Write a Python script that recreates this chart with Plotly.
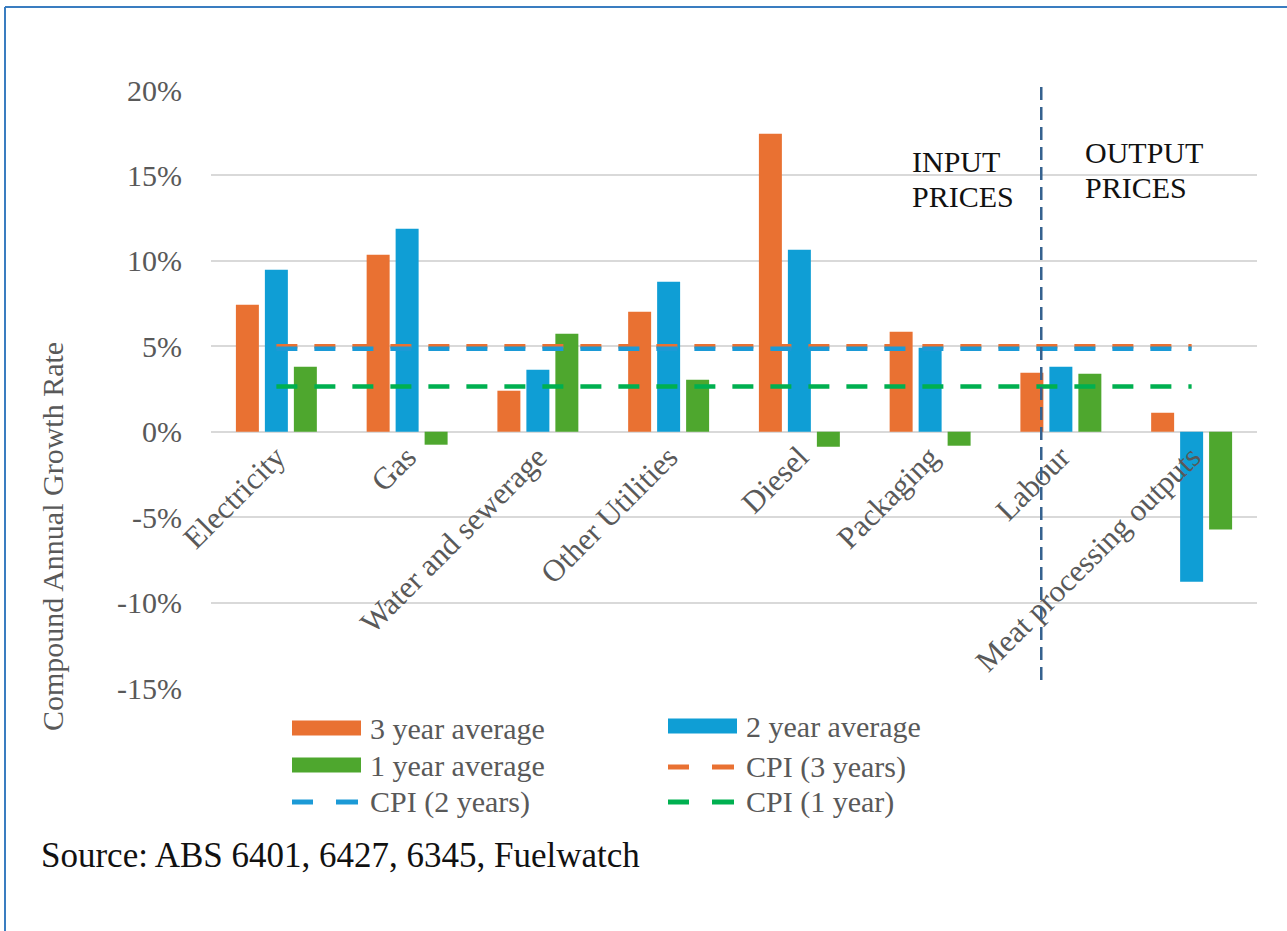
import plotly.graph_objects as go

# Categories and compound annual growth rates (%)
categories = ["Electricity", "Gas", "Water and sewerage", "Other Utilities",
              "Diesel", "Packaging", "Labour", "Meat processing outputs"]
three_year = [7.43, 10.36, 2.40, 7.02, 17.44, 5.85, 3.45, 1.11]
two_year = [9.48, 11.88, 3.63, 8.78, 10.65, 4.91, 3.80, -8.78]
one_year = [3.80, -0.76, 5.73, 3.04, -0.88, -0.82, 3.39, -5.73]

# CPI benchmarks (%)
cpi_three = 5.0
cpi_two = 4.85
cpi_one = 2.65

y_ticks = [-15, -10, -5, 0, 5, 10, 15, 20]
y_tick_labels = ["-15%", "-10%", "-5%", "0%", "5%", "10%", "15%", "20%"]

ORANGE = "#E97132"
BLUE = "#0F9ED5"
GREEN = "#4EA72E"
CPI_ORANGE = "#E97132"
CPI_BLUE = "#1C9AD6"
CPI_GREEN = "#00B050"
SERIF = "Liberation Serif, Times New Roman, serif"
GREY_TEXT = "#595959"

W, H = 1287, 931
L, R, T, B = 211, 30, 90, 243
PW, PH = W - L - R, H - T - B


def px(x):
    return (x - L) / PW


def py(y):
    return (H - B - y) / PH


fig = go.Figure()
fig.add_trace(go.Bar(x=categories, y=three_year, name="3 year average", marker_color=ORANGE))
fig.add_trace(go.Bar(x=categories, y=two_year, name="2 year average", marker_color=BLUE))
fig.add_trace(go.Bar(x=categories, y=one_year, name="1 year average", marker_color=GREEN))

dash = "21px,17px"
for val, col, nm in [(cpi_three, CPI_ORANGE, "CPI (3 years)"),
                     (cpi_two, CPI_BLUE, "CPI (2 years)"),
                     (cpi_one, CPI_GREEN, "CPI (1 year)")]:
    fig.add_trace(go.Scatter(x=categories, y=[val] * len(categories), mode="lines", name=nm,
                             line=dict(color=col, width=4.5, dash=dash)))

fig.update_traces(marker_line_width=0, selector=dict(type="bar"))

fig.update_layout(
    width=W, height=H, autosize=False,
    margin=dict(l=L, r=R, t=T, b=B, pad=0),
    paper_bgcolor="white", plot_bgcolor="white",
    barmode="group", bargap=0.335, bargroupgap=0.207,
    showlegend=False,
    font=dict(family=SERIF, size=30, color=GREY_TEXT),
)

fig.update_yaxes(range=[-15, 20], tickmode="array", tickvals=y_ticks, ticktext=y_tick_labels,
                 showgrid=True, gridcolor="#D9D9D9", gridwidth=1.5,
                 zeroline=True, zerolinecolor="#D9D9D9", zerolinewidth=1.5,
                 showline=False, ticks="", ticklabelstandoff=28,
                 tickfont=dict(family=SERIF, size=30, color=GREY_TEXT))

# category labels sit on the zero line
fig.update_xaxes(anchor="free", position=15 / 35, showgrid=False, showline=False,
                 zeroline=False, ticks="", tickangle=-45,
                 tickfont=dict(family=SERIF, size=31, color=GREY_TEXT))

shapes = []
# divider between input and output prices
div_x = (5.85 + 0.5) / len(categories)
shapes.append(dict(type="line", xref="paper", yref="paper", x0=div_x, x1=div_x,
                   y0=py(680), y1=py(83),
                   line=dict(color="#35618F", width=2.5, dash="13px,7px")))

# outer frame (top and left edges)
shapes.append(dict(type="line", xref="paper", yref="paper", x0=px(5), x1=px(W + 5),
                   y0=py(7), y1=py(7), line=dict(color="#3A7DC0", width=2)))
shapes.append(dict(type="line", xref="paper", yref="paper", x0=px(5), x1=px(5),
                   y0=py(7), y1=py(H + 5), line=dict(color="#3A7DC0", width=2)))

annotations = []
# section labels
for txt, x, y in [("INPUT", 910, 161), ("PRICES", 910, 196),
                  ("OUTPUT", 1083, 152), ("PRICES", 1083, 187)]:
    annotations.append(dict(text=txt, xref="paper", yref="paper", x=px(x), y=py(y),
                            xanchor="left", yanchor="middle", showarrow=False,
                            font=dict(family=SERIF, size=30, color="#111111")))

# axis title
annotations.append(dict(text="Compound Annual Growth Rate", xref="paper", yref="paper",
                        x=px(52), y=py(537), textangle=-90, showarrow=False,
                        xanchor="center", yanchor="middle",
                        font=dict(family=SERIF, size=30, color=GREY_TEXT)))

# legend
legend_items = [
    ("3 year average", ORANGE, "bar", 292, 728),
    ("2 year average", BLUE, "bar", 668, 726),
    ("1 year average", GREEN, "bar", 292, 765),
    ("CPI (3 years)", CPI_ORANGE, "dash", 668, 767),
    ("CPI (2 years)", CPI_BLUE, "dash", 292, 802),
    ("CPI (1 year)", CPI_GREEN, "dash", 668, 802),
]
for label, col, kind, x, y in legend_items:
    if kind == "bar":
        shapes.append(dict(type="rect", xref="paper", yref="paper",
                           x0=px(x), x1=px(x + 69), y0=py(y + 7.5), y1=py(y - 7.5),
                           fillcolor=col, line=dict(width=0)))
    else:
        for dx0, dx1 in [(0, 21), (44, 66)]:
            shapes.append(dict(type="line", xref="paper", yref="paper",
                               x0=px(x + dx0), x1=px(x + dx1), y0=py(y), y1=py(y),
                               line=dict(color=col, width=5)))
    annotations.append(dict(text=label, xref="paper", yref="paper", x=px(x + 76), y=py(y),
                            xanchor="left", yanchor="middle", showarrow=False,
                            font=dict(family=SERIF, size=30, color=GREY_TEXT)))

# source note
annotations.append(dict(text="Source: ABS 6401, 6427, 6345, Fuelwatch", xref="paper", yref="paper",
                        x=px(39), y=py(855), xanchor="left", yanchor="middle", showarrow=False,
                        font=dict(family=SERIF, size=35, color="#111111")))

fig.update_layout(shapes=shapes, annotations=annotations)

fig.write_html("out.html")
